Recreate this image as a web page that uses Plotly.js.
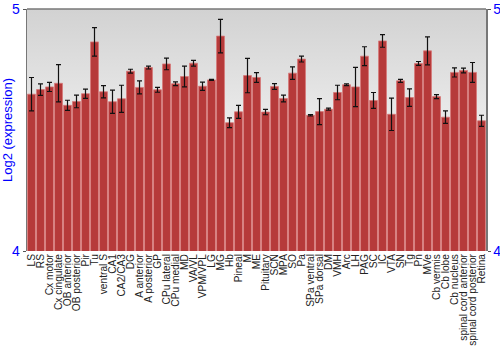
<!DOCTYPE html>
<html>
<head>
<meta charset="utf-8">
<script src="https://cdn.plot.ly/plotly-3.0.1.min.js"></script>
<style>html,body{margin:0;padding:0;background:#fff;}#chart{width:500px;height:350px;}</style>
</head>
<body>
<div id="chart"></div>
<script>
const regions = ["LS","RS","Cx motor","Cx cingulate","OB anterior","OB posterior","Pir","Tu","ventral S","CA1","CA2/CA3","DG","A anterior","A posterior","GP","CPu lateral","CPu medial","MD","VA/VL","VPM/VPL","LG","MG","Hb","Pineal","M","ME","Pituitary","SCN","MPA","SO","Pa","SPa ventral","SPa dorsal","DM","VMH","Arc","LH","PAG","SC","IC","VTA","SN","Tg","Pn","MVe","Cb vermis","Cb lobe","Cb nucleus","spinal cord anterior","spinal cord posterior","Retina"];
const expression = [4.648,4.667,4.678,4.693,4.602,4.618,4.650,4.864,4.658,4.617,4.629,4.743,4.676,4.758,4.666,4.773,4.691,4.721,4.776,4.681,4.707,4.888,4.530,4.575,4.725,4.717,4.574,4.680,4.630,4.735,4.793,4.561,4.576,4.586,4.655,4.687,4.678,4.805,4.622,4.868,4.565,4.703,4.634,4.775,4.827,4.638,4.553,4.738,4.746,4.738,4.538];
const errors = [0.069,0.024,0.019,0.077,0.021,0.026,0.019,0.059,0.025,0.048,0.056,0.008,0.027,0.006,0.010,0.024,0.008,0.043,0.012,0.017,0.002,0.069,0.020,0.027,0.071,0.020,0.011,0.012,0.014,0.026,0.012,0.003,0.054,0.004,0.030,0.004,0.081,0.039,0.033,0.026,0.067,0.006,0.036,0.008,0.058,0.008,0.026,0.019,0.010,0.041,0.023];
const yTicks = [4, 5];

const bgSvg = '<svg xmlns="http://www.w3.org/2000/svg" width="100" height="100" preserveAspectRatio="none"><defs><linearGradient id="g" x1="0" y1="0" x2="0" y2="1"><stop offset="0" stop-color="#d2d2d2"/><stop offset="0.85" stop-color="#ffffff"/><stop offset="1" stop-color="#ffffff"/></linearGradient></defs><rect width="100" height="100" fill="url(#g)"/></svg>';

const trace = {
  type: 'bar',
  x: regions,
  y: expression,
  base: 0,
  marker: {color: '#b63a3a', line: {color: 'rgba(215,120,120,0.8)', width: 1}},
  error_y: {type: 'data', array: errors, visible: true, color: '#111', thickness: 1.2, width: 2.5},
  hoverinfo: 'x+y'
};
// invisible companion so the right-hand axis is drawn
const rightAxisTrace = {
  type: 'scatter', mode: 'none', x: regions, y: expression, yaxis: 'y2', hoverinfo: 'skip', showlegend: false
};
const axisFont = {family: 'Liberation Sans, Arial, sans-serif', size: 14, color: '#0000ff'};
const layout = {
  width: 500, height: 350,
  margin: {l: 27, r: 14, t: 9, b: 99, pad: 0},
  paper_bgcolor: '#ffffff',
  plot_bgcolor: 'rgba(0,0,0,0)',
  showlegend: false,
  bargap: 0.12,
  images: [{source: 'data:image/svg+xml;utf8,' + encodeURIComponent(bgSvg), xref: 'paper', yref: 'paper', x: 0, y: 1, sizex: 1, sizey: 1, sizing: 'stretch', layer: 'below', xanchor: 'left', yanchor: 'top'}],
  xaxis: {
    type: 'category', tickmode: 'array', tickvals: regions, ticktext: regions,
    tickangle: -90, ticks: '', showgrid: false, zeroline: false,
    tickfont: {family: 'Liberation Sans, Arial, sans-serif', size: 10.2, color: '#222'},
    showline: false, automargin: false
  },
  yaxis: {
    range: [4, 5], tickvals: yTicks, ticktext: yTicks.map(String), ticks: 'outside', ticklen: 3, tickcolor: '#555',
    showgrid: false, zeroline: false, showline: true, linecolor: '#777', linewidth: 1.5, mirror: false,
    tickfont: axisFont, automargin: false,
    title: {text: 'Log2 (expression)', font: {family: 'Liberation Sans, Arial, sans-serif', size: 13, color: '#0000ff'}, standoff: 3}
  },
  yaxis2: {
    range: [4, 5], tickvals: yTicks, ticktext: yTicks.map(String), overlaying: 'y', side: 'right', anchor: 'x',
    ticks: 'outside', ticklen: 3, tickcolor: '#555', showgrid: false, zeroline: false,
    showline: true, linecolor: '#777', linewidth: 1.5, tickfont: axisFont, automargin: false
  },
  shapes: [{type: 'line', xref: 'paper', yref: 'paper', x0: 0, x1: 1, y0: 1, y1: 1, line: {color: '#777', width: 1.5}}]
};
Plotly.newPlot('chart', [trace, rightAxisTrace], layout, {displayModeBar: false, staticPlot: true});
</script>
</body>
</html>
